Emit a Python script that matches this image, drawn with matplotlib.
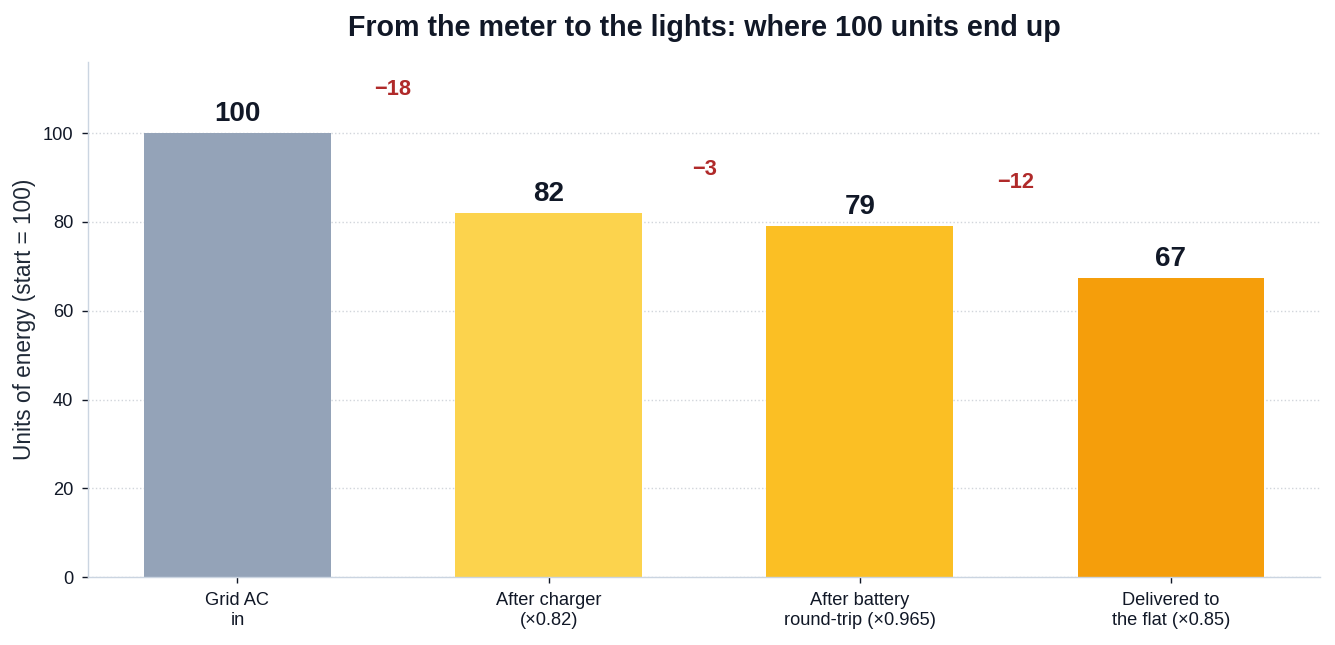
import matplotlib
matplotlib.use("Agg")
import matplotlib.pyplot as plt

plt.rcParams['font.family'] = ['Liberation Sans', 'DejaVu Sans']

stages = ["Grid AC\nin", "After charger\n(×0.82)", "After battery\nround-trip (×0.965)", "Delivered to\nthe flat (×0.85)"]
values = [100, 82, 79.13, 67.26]
losses = ["\u221218", "\u22123", "\u221212"]
colors = ["#94a3b8", "#fcd34d", "#fbbf24", "#f59e0b"]

fig, ax = plt.subplots(figsize=(10.68, 5.16), dpi=125)
fig.subplots_adjust(left=0.066, right=0.989, top=0.904, bottom=0.105)

x = range(len(values))
ax.bar(x, values, width=0.6, color=colors, zorder=2)

for i, v in enumerate(values):
    ax.annotate(f"{v:.0f}", (i, v), xytext=(0, 3.5), textcoords="offset points",
                ha="center", va="bottom", fontsize=16, fontweight="bold", color="#111827")

for i, lab in enumerate(losses):
    ax.annotate(lab, (i + 0.5, values[i] + 9.7), ha="center", va="center",
                fontsize=12.5, fontweight="bold", color="#b02a2a")

ax.set_ylim(0, 116)
ax.set_yticks([0, 20, 40, 60, 80, 100])
ax.set_xticks(list(x))
ax.set_xticklabels(stages, fontsize=10.5, color="#111827")
ax.tick_params(axis="y", labelsize=10.5, colors="#111827", pad=5)
ax.tick_params(axis="x", colors="#111827", pad=5)
ax.set_ylabel("Units of energy (start = 100)", fontsize=13, color="#1f2937")
ax.set_title("From the meter to the lights: where 100 units end up",
             fontsize=16.5, fontweight="bold", color="#111827", pad=15)

ax.grid(axis="y", linestyle=":", color="#d1d5db", linewidth=0.8, zorder=0)
ax.spines["top"].set_visible(False)
ax.spines["right"].set_visible(False)
ax.spines["left"].set_color("#cbd5e1")
ax.spines["bottom"].set_color("#cbd5e1")

fig.savefig("out.png", dpi=125, facecolor="white")
